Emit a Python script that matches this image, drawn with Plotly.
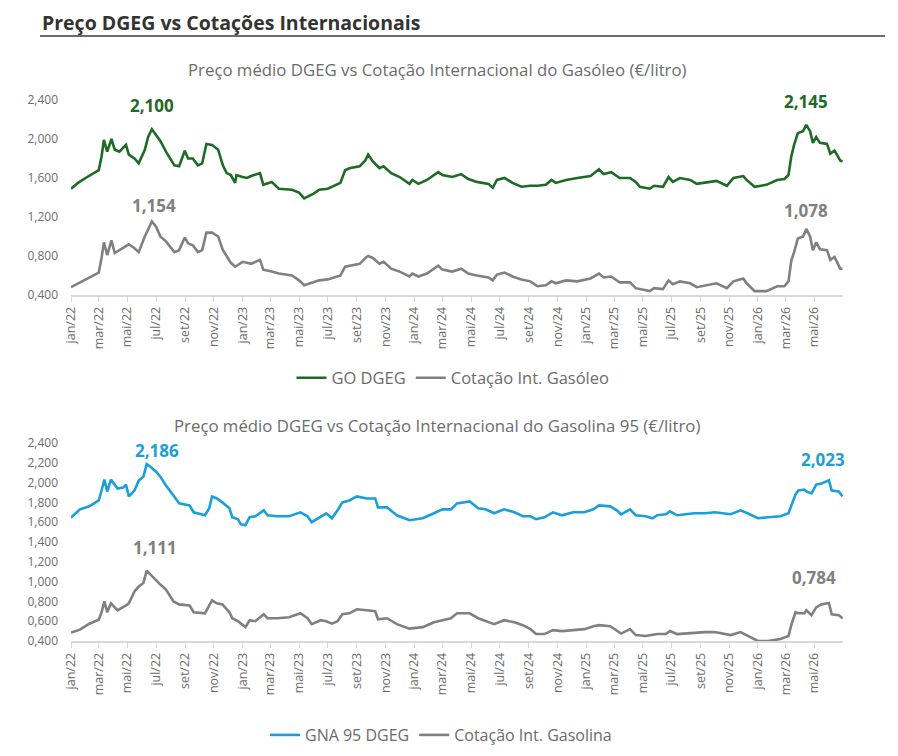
import plotly.graph_objects as go

# ---------------- DATA ----------------
# Top chart: Gasóleo
go_dates = [
    "2022-01-01","2022-01-16","2022-02-01","2022-02-15","2022-03-01","2022-03-07","2022-03-12","2022-03-19",
    "2022-03-28","2022-04-04","2022-04-14","2022-04-28","2022-05-04","2022-05-16","2022-05-25","2022-06-07",
    "2022-06-14","2022-06-22","2022-07-01","2022-07-10","2022-07-22","2022-08-09","2022-08-19","2022-08-31",
    "2022-09-07","2022-09-17","2022-09-28","2022-10-07","2022-10-16","2022-10-28","2022-11-10","2022-11-20",
    "2022-11-28","2022-12-07","2022-12-16","2022-12-19","2023-01-01","2023-01-10","2023-01-19","2023-02-07",
    "2023-02-14","2023-03-04","2023-03-19","2023-04-16","2023-05-01","2023-05-12","2023-06-01","2023-06-13",
    "2023-07-01","2023-07-28","2023-08-07","2023-08-16","2023-09-07","2023-09-19","2023-09-25","2023-10-05",
    "2023-10-19","2023-10-28","2023-11-13","2023-12-01","2023-12-22","2023-12-28","2024-01-10","2024-01-28",
    "2024-02-21","2024-03-01","2024-03-22","2024-04-10","2024-04-25","2024-05-13","2024-06-07","2024-06-16",
    "2024-06-25","2024-07-11","2024-07-28","2024-08-16","2024-09-04","2024-09-19","2024-10-07","2024-10-19",
    "2024-10-28","2024-11-19","2024-12-13","2025-01-10","2025-01-28","2025-02-07","2025-02-23","2025-03-13",
    "2025-04-04","2025-04-16","2025-04-25","2025-05-16","2025-05-25","2025-06-13","2025-06-25","2025-07-04",
    "2025-07-19","2025-08-10","2025-08-24","2025-09-16","2025-10-05","2025-10-27","2025-11-10","2025-12-01",
    "2025-12-08","2025-12-25","2026-01-19","2026-02-11","2026-02-26","2026-03-07","2026-03-13","2026-03-19",
    "2026-03-27","2026-04-07","2026-04-14","2026-04-22","2026-04-28","2026-05-05","2026-05-13","2026-05-28",
    "2026-06-04","2026-06-13","2026-06-25","2026-06-30",
]
go_dgeg = [
    1.49,1.55,1.60,1.64,1.68,1.82,1.99,1.87,
    2.00,1.89,1.87,1.94,1.84,1.80,1.75,1.89,
    2.02,2.10,2.04,1.98,1.87,1.73,1.72,1.88,
    1.80,1.80,1.73,1.75,1.95,1.94,1.89,1.73,
    1.65,1.63,1.55,1.63,1.61,1.60,1.62,1.65,
    1.53,1.56,1.49,1.48,1.45,1.39,1.44,1.48,
    1.49,1.55,1.68,1.70,1.72,1.78,1.84,1.77,
    1.70,1.72,1.65,1.61,1.54,1.58,1.54,1.58,
    1.66,1.63,1.61,1.64,1.59,1.56,1.54,1.50,
    1.58,1.60,1.55,1.51,1.52,1.52,1.53,1.58,
    1.55,1.58,1.60,1.62,1.69,1.64,1.66,1.60,
    1.60,1.56,1.51,1.49,1.52,1.51,1.61,1.56,
    1.60,1.58,1.54,1.56,1.57,1.52,1.60,1.62,
    1.58,1.51,1.53,1.58,1.59,1.63,1.82,1.94,
    2.06,2.08,2.145,2.08,1.96,2.02,1.96,1.95,
    1.85,1.88,1.78,1.77,
]
go_int = [
    0.48,0.52,0.56,0.60,0.63,0.78,0.94,0.81,
    0.96,0.83,0.86,0.91,0.92,0.88,0.84,1.00,
    1.08,1.154,1.10,1.00,0.95,0.84,0.86,0.99,
    0.93,0.91,0.84,0.86,1.04,1.04,1.00,0.86,
    0.80,0.73,0.69,0.70,0.74,0.73,0.72,0.76,
    0.66,0.64,0.62,0.60,0.55,0.50,0.53,0.55,
    0.56,0.60,0.69,0.70,0.72,0.78,0.80,0.78,
    0.72,0.74,0.67,0.64,0.59,0.62,0.59,0.62,
    0.70,0.66,0.64,0.67,0.62,0.60,0.58,0.55,
    0.61,0.63,0.59,0.56,0.54,0.49,0.50,0.54,
    0.52,0.55,0.54,0.57,0.62,0.58,0.59,0.53,
    0.53,0.47,0.46,0.44,0.47,0.46,0.55,0.51,
    0.54,0.52,0.48,0.50,0.52,0.47,0.54,0.57,
    0.52,0.44,0.44,0.49,0.49,0.54,0.75,0.84,
    0.98,1.00,1.078,1.00,0.86,0.94,0.87,0.86,
    0.76,0.79,0.67,0.67,
]

# Bottom chart: Gasolina 95
gna_dates = [
    "2022-01-01","2022-01-10","2022-01-20","2022-02-09","2022-03-01","2022-03-07","2022-03-13","2022-03-19",
    "2022-03-27","2022-04-10","2022-04-22","2022-04-28","2022-05-04","2022-05-16","2022-05-25","2022-06-04",
    "2022-06-11","2022-06-19","2022-07-01","2022-07-10","2022-07-22","2022-08-07","2022-08-19","2022-09-10",
    "2022-09-19","2022-10-13","2022-10-22","2022-10-28","2022-11-07","2022-11-19","2022-12-04","2022-12-10",
    "2022-12-22","2022-12-28","2023-01-07","2023-01-16","2023-01-28","2023-02-15","2023-02-23","2023-03-16",
    "2023-04-10","2023-05-04","2023-05-19","2023-05-28","2023-06-16","2023-06-28","2023-07-10","2023-07-22",
    "2023-08-01","2023-08-16","2023-09-01","2023-09-22","2023-10-10","2023-10-16","2023-11-04","2023-11-25",
    "2023-12-22","2024-01-19","2024-02-12","2024-03-01","2024-03-19","2024-04-01","2024-04-28","2024-05-16",
    "2024-06-01","2024-06-19","2024-07-10","2024-08-01","2024-08-19","2024-09-04","2024-09-16","2024-10-04",
    "2024-10-22","2024-11-10","2024-12-04","2024-12-28","2025-01-16","2025-01-28","2025-02-21","2025-03-07",
    "2025-03-16","2025-04-04","2025-04-16","2025-05-07","2025-05-22","2025-06-01","2025-06-19","2025-06-28",
    "2025-07-13","2025-08-04","2025-08-19","2025-09-10","2025-10-01","2025-11-04","2025-11-25","2025-12-10",
    "2026-01-01","2026-01-22","2026-02-18","2026-03-07","2026-03-13","2026-03-22","2026-03-28","2026-04-10",
    "2026-04-14","2026-04-25","2026-05-05","2026-05-16","2026-06-01","2026-06-07","2026-06-22","2026-06-30",
]
gna_dgeg = [
    1.646,1.69,1.73,1.76,1.82,1.92,2.03,1.91,
    2.03,1.94,1.95,1.98,1.86,1.92,2.02,2.06,
    2.186,2.16,2.11,2.06,1.97,1.87,1.79,1.77,
    1.70,1.67,1.74,1.86,1.84,1.80,1.74,1.65,
    1.63,1.58,1.57,1.65,1.66,1.72,1.67,1.66,
    1.66,1.70,1.66,1.60,1.65,1.69,1.64,1.72,
    1.80,1.82,1.86,1.84,1.84,1.75,1.75,1.67,
    1.62,1.64,1.69,1.73,1.73,1.79,1.81,1.74,
    1.73,1.69,1.73,1.70,1.66,1.66,1.63,1.65,
    1.70,1.67,1.70,1.70,1.73,1.77,1.76,1.72,
    1.68,1.73,1.67,1.66,1.64,1.67,1.68,1.71,
    1.67,1.68,1.69,1.69,1.70,1.68,1.72,1.69,
    1.64,1.65,1.66,1.69,1.77,1.88,1.92,1.93,
    1.91,1.89,1.98,1.99,2.023,1.92,1.91,1.86,
]
gna_int = [
    0.485,0.50,0.515,0.575,0.615,0.69,0.80,0.69,
    0.78,0.71,0.74,0.76,0.78,0.90,0.95,0.985,
    1.111,1.07,1.01,0.97,0.92,0.80,0.77,0.76,
    0.69,0.68,0.76,0.81,0.78,0.77,0.69,0.63,
    0.60,0.58,0.54,0.61,0.60,0.67,0.63,0.63,
    0.64,0.68,0.63,0.57,0.61,0.60,0.575,0.60,
    0.67,0.68,0.72,0.71,0.70,0.62,0.63,0.57,
    0.525,0.54,0.59,0.61,0.63,0.68,0.68,0.63,
    0.60,0.57,0.61,0.59,0.56,0.52,0.47,0.47,
    0.51,0.50,0.51,0.52,0.55,0.56,0.55,0.50,
    0.475,0.52,0.46,0.45,0.46,0.47,0.47,0.50,
    0.47,0.48,0.48,0.49,0.49,0.46,0.49,0.45,
    0.40,0.40,0.42,0.45,0.56,0.69,0.68,0.68,
    0.71,0.66,0.74,0.77,0.784,0.67,0.66,0.63,
]

tick_dates = [
    "2022-01-01","2022-03-01","2022-05-01","2022-07-01","2022-09-01","2022-11-01",
    "2023-01-01","2023-03-01","2023-05-01","2023-07-01","2023-09-01","2023-11-01",
    "2024-01-01","2024-03-01","2024-05-01","2024-07-01","2024-09-01","2024-11-01",
    "2025-01-01","2025-03-01","2025-05-01","2025-07-01","2025-09-01","2025-11-01",
    "2026-01-01","2026-03-01","2026-05-01",
]
tick_labels = [
    "jan/22","mar/22","mai/22","jul/22","set/22","nov/22",
    "jan/23","mar/23","mai/23","jul/23","set/23","nov/23",
    "jan/24","mar/24","mai/24","jul/24","set/24","nov/24",
    "jan/25","mar/25","mai/25","jul/25","set/25","nov/25",
    "jan/26","mar/26","mai/26",
]
top_yticks = [0.4, 0.8, 1.2, 1.6, 2.0, 2.4]
top_ylabels = ["0,400", "0,800", "1,200", "1,600", "2,000", "2,400"]
bot_yticks = [0.4, 0.6, 0.8, 1.0, 1.2, 1.4, 1.6, 1.8, 2.0, 2.2, 2.4]
bot_ylabels = ["0,400", "0,600", "0,800", "1,000", "1,200", "1,400", "1,600",
               "1,800", "2,000", "2,200", "2,400"]

# ---------------- STYLE ----------------
W, H = 898, 756
OFF = 8  # page body margin
GREEN = "#1d6b24"
BLUE = "#1a9fd9"
GREY = "#808080"
TXT = "#6b6b6b"
AXIS = "#d9d9d9"
FONT = "Open Sans"


def px_x(p):
    return (p - OFF) / W


def px_y(p):
    return 1 - (p - OFF) / H


fig = go.Figure()

fig.add_trace(go.Scatter(x=go_dates, y=go_dgeg, mode="lines", name="GO DGEG",
                         line=dict(color=GREEN, width=2.6), xaxis="x", yaxis="y",
                         legend="legend"))
fig.add_trace(go.Scatter(x=go_dates, y=go_int, mode="lines", name="Cotação Int. Gasóleo",
                         line=dict(color=GREY, width=2.6), xaxis="x", yaxis="y",
                         legend="legend"))
fig.add_trace(go.Scatter(x=gna_dates, y=gna_dgeg, mode="lines", name="GNA 95 DGEG",
                         line=dict(color=BLUE, width=2.6), xaxis="x2", yaxis="y2",
                         legend="legend2"))
fig.add_trace(go.Scatter(x=gna_dates, y=gna_int, mode="lines", name="Cotação Int. Gasolina",
                         line=dict(color=GREY, width=2.6), xaxis="x2", yaxis="y2",
                         legend="legend2"))


def fmt(v):
    return f"{v:.3f}".replace(".", ",")


def peak(dates, vals, start, end):
    idx = [i for i, d in enumerate(dates) if start <= d <= end]
    i = max(idx, key=lambda k: vals[k])
    return dates[i], vals[i]


annotations = []
label_specs = [
    (go_dates, go_dgeg, GREEN, "x", "y", [(24, 0), (23, 0)]),
    (go_dates, go_int, GREY, "x", "y", [(16, 2), (18, 0)]),
    (gna_dates, gna_dgeg, BLUE, "x2", "y2", [(14, 10), (21, -6)]),
    (gna_dates, gna_int, GREY, "x2", "y2", [(23, 8), (25, -15)]),
]
for dates, vals, color, xr_, yr_, shifts in label_specs:
    for (s, e), (ys, xs) in zip([("2022-01-01", "2022-12-31"), ("2026-01-01", "2026-12-31")], shifts):
        d, v = peak(dates, vals, s, e)
        annotations.append(dict(x=d, y=v, xref=xr_, yref=yr_, text=f"<b>{fmt(v)}</b>",
                                showarrow=False, yshift=ys, xshift=xs,
                                font=dict(family=FONT, size=17, color=color)))

# titles
annotations.append(dict(x=px_x(41), y=1.0, xref="paper", yref="paper", xanchor="left",
                        yanchor="top", showarrow=False, borderpad=0,
                        text="<b>Preço DGEG vs Cotações Internacionais</b>",
                        font=dict(family=FONT, size=19.5, color="#333333")))
annotations.append(dict(x=px_x(437), y=px_y(70), xref="paper", yref="paper", xanchor="center",
                        yanchor="middle", showarrow=False,
                        text="Preço médio DGEG vs Cotação Internacional do Gasóleo (€/litro)",
                        font=dict(family=FONT, size=16.8, color=TXT)))
annotations.append(dict(x=px_x(437), y=px_y(425), xref="paper", yref="paper", xanchor="center",
                        yanchor="middle", showarrow=False,
                        text="Preço médio DGEG vs Cotação Internacional do Gasolina 95 (€/litro)",
                        font=dict(family=FONT, size=16.8, color=TXT)))

xr = ["2022-01-01", "2026-07-01"]
xaxis_common = dict(type="date", range=xr, tickvals=tick_dates, ticktext=tick_labels,
                    tickangle=-90, showgrid=False, zeroline=False, showline=True,
                    linecolor=AXIS, linewidth=1.5, ticks="outside", ticklen=5,
                    tickcolor=AXIS, automargin=False,
                    tickfont=dict(family=FONT, size=12.5, color=TXT))
yaxis_common = dict(showgrid=False, zeroline=False, showline=False, ticks="",
                    ticklabelstandoff=12, automargin=False,
                    tickfont=dict(family=FONT, size=12, color=TXT))

fig.update_layout(
    width=W, height=H,
    margin=dict(l=0, r=0, t=0, b=0, autoexpand=False),
    paper_bgcolor="white", plot_bgcolor="white",
    font=dict(family=FONT, color=TXT),
    xaxis=dict(domain=[px_x(71), px_x(843)], anchor="y", **xaxis_common),
    yaxis=dict(domain=[px_y(295), px_y(100)], anchor="x", range=[0.4, 2.4],
               tickvals=top_yticks, ticktext=top_ylabels, **yaxis_common),
    xaxis2=dict(domain=[px_x(71), px_x(843)], anchor="y2", **xaxis_common),
    yaxis2=dict(domain=[px_y(641), px_y(443)], anchor="x2", range=[0.4, 2.4],
                tickvals=bot_yticks, ticktext=bot_ylabels, **yaxis_common),
    legend=dict(orientation="h", x=px_x(453), y=px_y(378), xanchor="center", yanchor="middle",
                font=dict(family=FONT, size=16.5, color=TXT), itemwidth=30,
                bgcolor="rgba(0,0,0,0)"),
    legend2=dict(orientation="h", x=px_x(441), y=px_y(735), xanchor="center", yanchor="middle",
                 font=dict(family=FONT, size=16, color=TXT), itemwidth=30,
                 bgcolor="rgba(0,0,0,0)"),
    annotations=annotations,
    shapes=[dict(type="line", xref="paper", yref="paper", x0=px_x(40), x1=px_x(885),
                 y0=px_y(36), y1=px_y(36), line=dict(color="#3a3a3a", width=1.5))],
    showlegend=True,
)

fig.write_html("out.html")
